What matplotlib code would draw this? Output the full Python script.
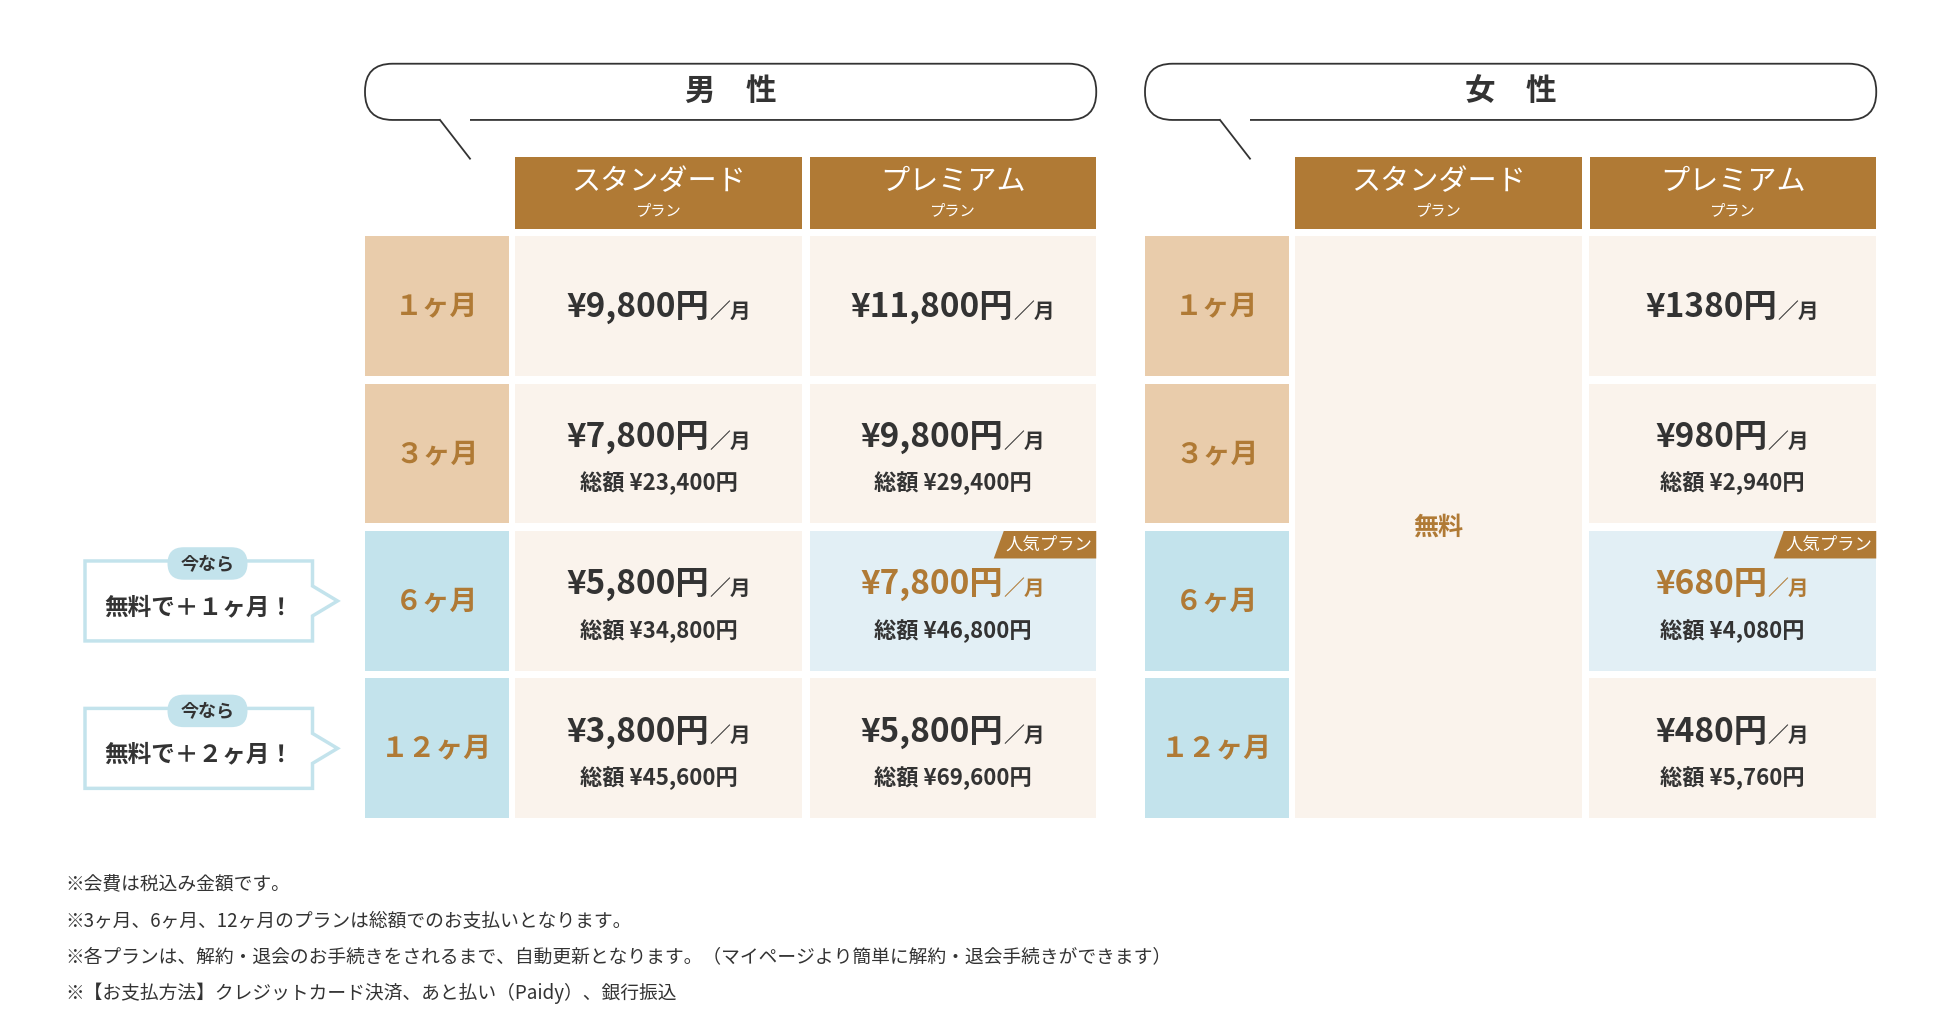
import matplotlib.pyplot as plt
from matplotlib.patches import FancyBboxPatch, Rectangle, Polygon

plt.rcParams['font.family'] = 'Noto Sans CJK JP'

# データ
periods = ["１ヶ月", "３ヶ月", "６ヶ月", "１２ヶ月"]
plans = ["スタンダード", "プレミアム"]
male_std = ["¥9,800円", "¥7,800円", "¥5,800円", "¥3,800円"]
male_std_total = [None, "総額 ¥23,400円", "総額 ¥34,800円", "総額 ¥45,600円"]
male_prem = ["¥11,800円", "¥9,800円", "¥7,800円", "¥5,800円"]
male_prem_total = [None, "総額 ¥29,400円", "総額 ¥46,800円", "総額 ¥69,600円"]
female_prem = ["¥1380円", "¥980円", "¥680円", "¥480円"]
female_prem_total = [None, "総額 ¥2,940円", "総額 ¥4,080円", "総額 ¥5,760円"]
popular_row = 2
campaign = {2: "無料で＋１ヶ月！", 3: "無料で＋２ヶ月！"}
notes = [
    "※会費は税込み金額です。",
    "※3ヶ月、6ヶ月、12ヶ月のプランは総額でのお支払いとなります。",
    "※各プランは、解約・退会のお手続きをされるまで、自動更新となります。（マイページより簡単に解約・退会手続きができます）",
    "※【お支払方法】クレジットカード決済、あと払い（Paidy）、銀行振込",
]

BROWN = '#b07a35'
DARK = '#333333'
BEIGE = '#e9ccab'
BLUE = '#c3e3ec'
CELL = '#faf3ec'
POP = '#e2eff5'

fig = plt.figure(figsize=(19.4, 10.22), dpi=100)
ax = fig.add_axes([0, 0, 1, 1])
ax.set_xlim(0, 1552)
ax.set_ylim(818, 0)
ax.axis('off')
fig.canvas.draw()
rend = fig.canvas.get_renderer()

row_tops = [189, 307, 425, 543]
row_h = 112


def price(xc, y, main, color=DARK):
    t1 = ax.text(0, y, main, fontsize=24, weight='bold', color=color, va='center', ha='left')
    t2 = ax.text(0, y + 3, "／月", fontsize=15, weight='bold', color=color, va='center', ha='left')
    w1 = t1.get_window_extent(rend).width / 1.25
    w2 = t2.get_window_extent(rend).width / 1.25
    x0 = xc - (w1 + w2) / 2
    t1.set_x(x0)
    t2.set_x(x0 + w1)


def column(x0, x1, prices, totals, pop=None):
    xc = (x0 + x1) / 2
    for i, top in enumerate(row_tops):
        fc = POP if i == pop else CELL
        ax.add_patch(Rectangle((x0, top), x1 - x0, row_h, fc=fc, ec='none'))
        col = BROWN if i == pop else DARK
        if totals[i] is None:
            price(xc, top + 57, prices[i], col)
        else:
            price(xc, top + 43, prices[i], col)
            ax.text(xc, top + 80, totals[i], fontsize=16, weight='bold', color=DARK, ha='center', va='center')
        if i == pop:
            ax.add_patch(Polygon([(x1 - 82, top + 22), (x1 - 74, top), (x1, top), (x1, top + 22)],
                                 closed=True, fc=BROWN, ec='none'))
            ax.text(x1 - 38, top + 11, "人気プラン", fontsize=12.5, color='white', ha='center', va='center')


def block(ox, title):
    # 吹き出し
    ax.add_patch(FancyBboxPatch((ox + 292, 51), 585, 45, boxstyle='round,pad=0,rounding_size=22',
                                fc='white', ec=DARK, lw=1.3))
    ax.add_patch(Rectangle((ox + 352, 94), 24, 4, fc='white', ec='none'))
    ax.plot([ox + 352, ox + 376], [96, 127], color=DARK, lw=1.3)
    ax.text(ox + 585, 73, title, fontsize=22, weight='bold', color=DARK, ha='center', va='center')
    # ヘッダー
    for j, (a, b) in enumerate([(412, 642), (648, 877)]):
        ax.add_patch(Rectangle((ox + a, 126), b - a, 57, fc=BROWN, ec='none'))
        ax.text(ox + (a + b) / 2, 146, plans[j], fontsize=21, color='white', ha='center', va='center')
        ax.text(ox + (a + b) / 2, 169, "プラン", fontsize=11, color='white', ha='center', va='center')
    # 期間ラベル
    for i, top in enumerate(row_tops):
        ax.add_patch(Rectangle((ox + 292, top), 115, row_h, fc=BEIGE if i < 2 else BLUE, ec='none'))
        ax.text(ox + 349.5, top + 57, periods[i], fontsize=20, weight='bold', color=BROWN, ha='center', va='center')


block(0, "男　性")
column(412, 642, male_std, male_std_total)
column(648, 877, male_prem, male_prem_total, pop=popular_row)

block(624, "女　性")
ax.add_patch(Rectangle((1036, 189), 230, 466, fc=CELL, ec='none'))
ax.text(1151, 422, "無料", fontsize=18, weight='bold', color=BROWN, ha='center', va='center')
column(1271, 1501, female_prem, female_prem_total, pop=popular_row)

# キャンペーン吹き出し
for i, txt in campaign.items():
    yc = row_tops[i] + 56
    ax.add_patch(Polygon([(68, yc - 32), (250, yc - 32), (250, yc - 12), (270, yc), (250, yc + 12),
                          (250, yc + 32), (68, yc + 32)], closed=True, fc='white', ec=BLUE, lw=2.5))
    ax.add_patch(FancyBboxPatch((134, yc - 43), 64, 26, boxstyle='round,pad=0,rounding_size=13',
                                fc=BLUE, ec='none'))
    ax.text(166, yc - 30, "今なら", fontsize=13, weight='bold', color=DARK, ha='center', va='center')
    ax.text(159, yc + 5, txt, fontsize=17, weight='bold', color=DARK, ha='center', va='center')

for k, n in enumerate(notes):
    ax.text(52, 708 + 29 * k, n, fontsize=13.5, color=DARK, ha='left', va='center')

fig.savefig('out.png', dpi=100, facecolor='white')
